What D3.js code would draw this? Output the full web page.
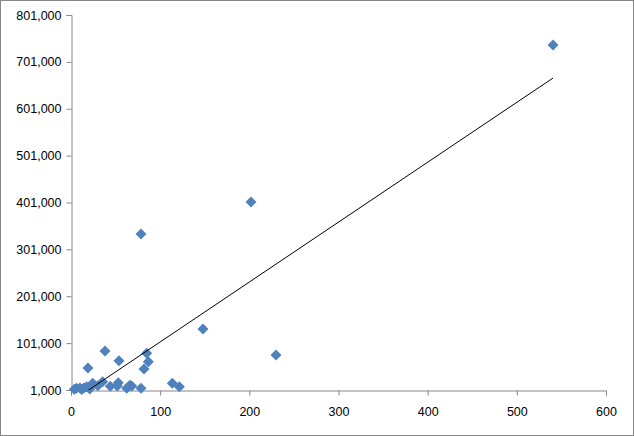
<!DOCTYPE html>
<html>
<head>
<meta charset="utf-8">
<script src="https://cdn.jsdelivr.net/npm/d3@7"></script>
<style>
  html, body { margin: 0; padding: 0; background: #fff; }
  svg { display: block; }
  text { font-family: "Liberation Sans", Arial, sans-serif; fill: #000; }
</style>
</head>
<body>
<svg id="chart" width="634" height="436"></svg>
<script>
// ---- data ----
const xValues = [540.6, 201.9, 78.5, 229.9, 148, 38.1, 19, 53.8, 84.9, 86.7, 81.9, 113.6, 121.5,
                 53, 51.9, 62.5, 68.1, 78.5, 35.5, 24.3, 17.6, 14.4, 10, 3.7, 30, 6, 12, 21, 66, 44];
const yValues = [737000, 402000, 333800, 75700, 131100, 84200, 47900, 63500, 79300, 61400, 45800, 15300, 8000,
                 16600, 9500, 4600, 9500, 4600, 18700, 15300, 8000, 5300, 5300, 2500, 10000, 5000, 2000, 3000, 11000, 9000];
const trendX = [3.7, 540.6];
const trendY = [-19560, 666600];
const xTicks = [0, 100, 200, 300, 400, 500, 600];
const yTicks = [1000, 101000, 201000, 301000, 401000, 501000, 601000, 701000, 801000];

(function () {
const svg = d3.select("#chart");
const W = 634, H = 436;
const mLeft = 71, mRight = 606, mTop = 15, mBottom = 390;

// outer border
svg.append("rect").attr("x", 0.5).attr("y", 0.5).attr("width", W - 1).attr("height", H - 1)
  .attr("fill", "#fff").attr("stroke", "#868686");

const x = d3.scaleLinear().domain([0, 600]).range([mLeft, mRight]);
const y = d3.scaleLinear().domain([1000, 801000]).range([mBottom, mTop]);

const fmt = d3.format(",");

// axes
const yAxis = svg.append("g").attr("transform", `translate(${mLeft + 0.5},0)`)
  .call(d3.axisLeft(y).tickValues(yTicks).tickFormat(fmt).tickSize(5).tickPadding(5));
const xAxis = svg.append("g").attr("transform", `translate(0,${mBottom + 0.5})`)
  .call(d3.axisBottom(x).tickValues(xTicks).tickSize(5).tickPadding(12));
[xAxis, yAxis].forEach(g => {
  g.select(".domain").attr("stroke", "#868686");
  g.selectAll(".tick line").attr("stroke", "#868686");
  g.selectAll(".tick text").attr("font-size", "12.5px").attr("fill", "#000")
    .style("font-family", "'Liberation Sans', Arial, sans-serif");
});

// clip for trendline
svg.append("clipPath").attr("id", "plotClip").append("rect")
  .attr("x", mLeft).attr("y", mTop).attr("width", mRight - mLeft).attr("height", mBottom - mTop);

// points
const pts = xValues.map((v, i) => ({ x: v, y: yValues[i] }));
const r = 5.5;
svg.append("g").selectAll("path").data(pts).join("path")
  .attr("d", d => {
    const cx = x(d.x), cy = y(d.y);
    return `M${cx},${cy - r}L${cx + r},${cy}L${cx},${cy + r}L${cx - r},${cy}Z`;
  })
  .attr("fill", "#4F81BD");

// trendline
const line = d3.line().x(d => x(d[0])).y(d => y(d[1]));
svg.append("path")
  .attr("clip-path", "url(#plotClip)")
  .attr("d", line(trendX.map((v, i) => [v, trendY[i]])))
  .attr("fill", "none").attr("stroke", "#000").attr("stroke-width", 1);
})();
</script>
</body>
</html>
